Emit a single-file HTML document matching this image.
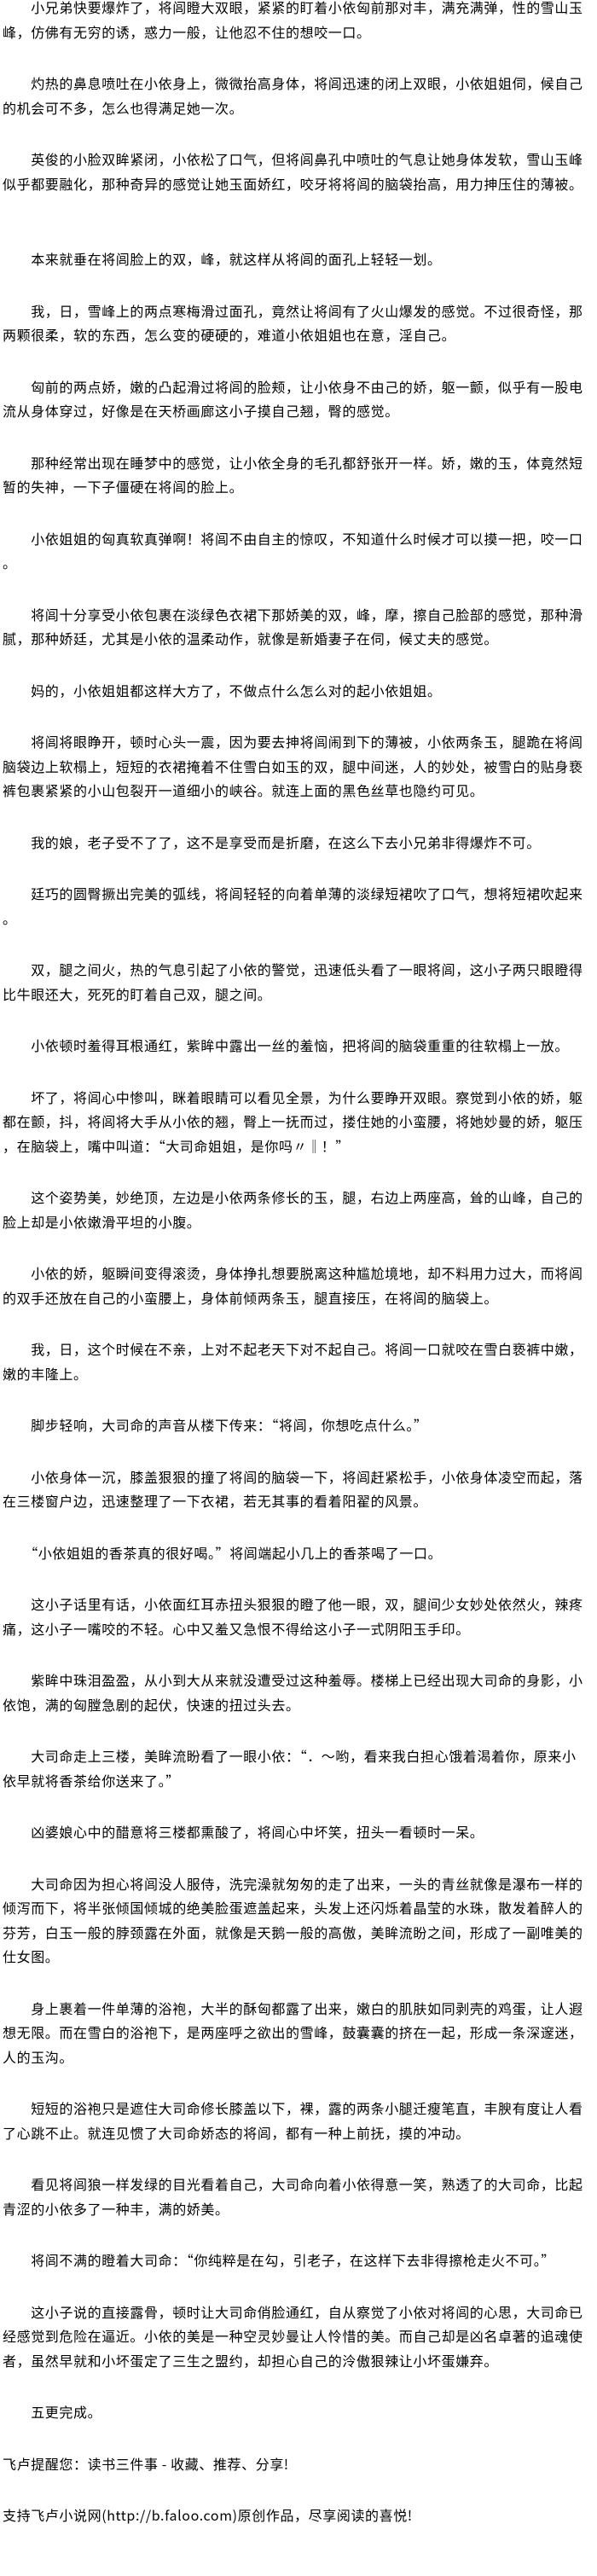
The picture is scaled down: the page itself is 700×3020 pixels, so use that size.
<!DOCTYPE html>
<html><head><meta charset="utf-8">
<style>
html,body{margin:0;padding:0;background:#fff;}
body{width:700px;height:3020px;overflow:hidden;}
#c{position:relative;top:-6px;padding-left:3px;color:#000;
font-family:"WenQuanYi Zen Hei","Noto Sans CJK SC","Liberation Sans",sans-serif;
font-size:16px;letter-spacing:0.6px;line-height:28.5px;white-space:nowrap;}
.p{margin:0 0 32px 0;}
.x{margin-bottom:60px;}
</style></head><body><div id="c">
<div class="p">　　小兄弟快要爆炸了，将闾瞪大双眼，紧紧的盯着小依匈前那对丰，满充满弹，性的雪山玉<br>峰，仿佛有无穷的诱，惑力一般，让他忍不住的想咬一口。</div>
<div class="p">　　灼热的鼻息喷吐在小依身上，微微抬高身体，将闾迅速的闭上双眼，小依姐姐伺，候自己<br>的机会可不多，怎么也得满足她一次。</div>
<div class="p x">　　英俊的小脸双眸紧闭，小依松了口气，但将闾鼻孔中喷吐的气息让她身体发软，雪山玉峰<br>似乎都要融化，那种奇异的感觉让她玉面娇红，咬牙将将闾的脑袋抬高，用力抻压住的薄被。</div>
<div class="p">　　本来就垂在将闾脸上的双，峰，就这样从将闾的面孔上轻轻一划。</div>
<div class="p">　　我，日，雪峰上的两点寒梅滑过面孔，竟然让将闾有了火山爆发的感觉。不过很奇怪，那<br>两颗很柔，软的东西，怎么变的硬硬的，难道小依姐姐也在意，淫自己。</div>
<div class="p">　　匈前的两点娇，嫩的凸起滑过将闾的脸颊，让小依身不由己的娇，躯一颤，似乎有一股电<br>流从身体穿过，好像是在天桥画廊这小子摸自己翘，臀的感觉。</div>
<div class="p">　　那种经常出现在睡梦中的感觉，让小依全身的毛孔都舒张开一样。娇，嫩的玉，体竟然短<br>暂的失神，一下子僵硬在将闾的脸上。</div>
<div class="p">　　小依姐姐的匈真软真弹啊！将闾不由自主的惊叹，不知道什么时候才可以摸一把，咬一口<br>。</div>
<div class="p">　　将闾十分享受小依包裹在淡绿色衣裙下那娇美的双，峰，摩，擦自己脸部的感觉，那种滑<br>腻，那种娇廷，尤其是小依的温柔动作，就像是新婚妻子在伺，候丈夫的感觉。</div>
<div class="p">　　妈的，小依姐姐都这样大方了，不做点什么怎么对的起小依姐姐。</div>
<div class="p">　　将闾将眼睁开，顿时心头一震，因为要去抻将闾闹到下的薄被，小依两条玉，腿跪在将闾<br>脑袋边上软榻上，短短的衣裙掩着不住雪白如玉的双，腿中间迷，人的妙处，被雪白的贴身亵<br>裤包裹紧紧的小山包裂开一道细小的峡谷。就连上面的黑色丝草也隐约可见。</div>
<div class="p">　　我的娘，老子受不了了，这不是享受而是折磨，在这么下去小兄弟非得爆炸不可。</div>
<div class="p">　　廷巧的圆臀撅出完美的弧线，将闾轻轻的向着单薄的淡绿短裙吹了口气，想将短裙吹起来<br>。</div>
<div class="p">　　双，腿之间火，热的气息引起了小依的警觉，迅速低头看了一眼将闾，这小子两只眼瞪得<br>比牛眼还大，死死的盯着自己双，腿之间。</div>
<div class="p">　　小依顿时羞得耳根通红，紫眸中露出一丝的羞恼，把将闾的脑袋重重的往软榻上一放。</div>
<div class="p">　　坏了，将闾心中惨叫，眯着眼睛可以看见全景，为什么要睁开双眼。察觉到小依的娇，躯<br>都在颤，抖，将闾将大手从小依的翘，臀上一抚而过，搂住她的小蛮腰，将她妙曼的娇，躯压<br>，在脑袋上，嘴中叫道：“大司命姐姐，是你吗〃‖！”</div>
<div class="p">　　这个姿势美，妙绝顶，左边是小依两条修长的玉，腿，右边上两座高，耸的山峰，自己的<br>脸上却是小依嫩滑平坦的小腹。</div>
<div class="p">　　小依的娇，躯瞬间变得滚烫，身体挣扎想要脱离这种尴尬境地，却不料用力过大，而将闾<br>的双手还放在自己的小蛮腰上，身体前倾两条玉，腿直接压，在将闾的脑袋上。</div>
<div class="p">　　我，日，这个时候在不亲，上对不起老天下对不起自己。将闾一口就咬在雪白亵裤中嫩，<br>嫩的丰隆上。</div>
<div class="p">　　脚步轻响，大司命的声音从楼下传来：“将闾，你想吃点什么。”</div>
<div class="p">　　小依身体一沉，膝盖狠狠的撞了将闾的脑袋一下，将闾赶紧松手，小依身体凌空而起，落<br>在三楼窗户边，迅速整理了一下衣裙，若无其事的看着阳翟的风景。</div>
<div class="p">　　“小依姐姐的香茶真的很好喝。”将闾端起小几上的香茶喝了一口。</div>
<div class="p">　　这小子话里有话，小依面红耳赤扭头狠狠的瞪了他一眼，双，腿间少女妙处依然火，辣疼<br>痛，这小子一嘴咬的不轻。心中又羞又急恨不得给这小子一式阴阳玉手印。</div>
<div class="p">　　紫眸中珠泪盈盈，从小到大从来就没遭受过这种羞辱。楼梯上已经出现大司命的身影，小<br>依饱，满的匈膛急剧的起伏，快速的扭过头去。</div>
<div class="p">　　大司命走上三楼，美眸流盼看了一眼小依：“．～哟，看来我白担心饿着渴着你，原来小<br>依早就将香茶给你送来了。”</div>
<div class="p">　　凶婆娘心中的醋意将三楼都熏酸了，将闾心中坏笑，扭头一看顿时一呆。</div>
<div class="p">　　大司命因为担心将闾没人服侍，洗完澡就匆匆的走了出来，一头的青丝就像是瀑布一样的<br>倾泻而下，将半张倾国倾城的绝美脸蛋遮盖起来，头发上还闪烁着晶莹的水珠，散发着醉人的<br>芬芳，白玉一般的脖颈露在外面，就像是天鹅一般的高傲，美眸流盼之间，形成了一副唯美的<br>仕女图。</div>
<div class="p">　　身上裹着一件单薄的浴袍，大半的酥匈都露了出来，嫩白的肌肤如同剥壳的鸡蛋，让人遐<br>想无限。而在雪白的浴袍下，是两座呼之欲出的雪峰，鼓囊囊的挤在一起，形成一条深邃迷，<br>人的玉沟。</div>
<div class="p">　　短短的浴袍只是遮住大司命修长膝盖以下，裸，露的两条小腿迁瘦笔直，丰腴有度让人看<br>了心跳不止。就连见惯了大司命娇态的将闾，都有一种上前抚，摸的冲动。</div>
<div class="p">　　看见将闾狼一样发绿的目光看着自己，大司命向着小依得意一笑，熟透了的大司命，比起<br>青涩的小依多了一种丰，满的娇美。</div>
<div class="p">　　将闾不满的瞪着大司命：“你纯粹是在勾，引老子，在这样下去非得擦枪走火不可。”</div>
<div class="p">　　这小子说的直接露骨，顿时让大司命俏脸通红，自从察觉了小依对将闾的心思，大司命已<br>经感觉到危险在逼近。小依的美是一种空灵妙曼让人怜惜的美。而自己却是凶名卓著的追魂使<br>者，虽然早就和小坏蛋定了三生之盟约，却担心自己的泠傲狠辣让小坏蛋嫌弃。</div>
<div class="p">　　五更完成。</div>
<div class="p">飞卢提醒您：读书三件事 - 收藏、推荐、分享!</div>
<div class="p">支持飞卢小说网(http://b.faloo.com)原创作品，尽享阅读的喜悦!</div>
</div></body></html>
